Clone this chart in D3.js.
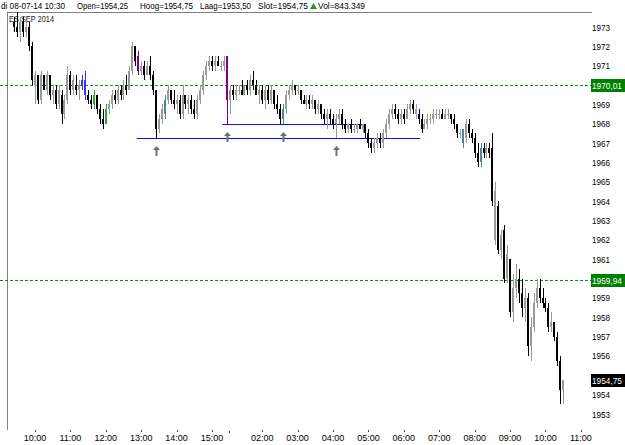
<!DOCTYPE html>
<html lang="en">
<head>
<meta charset="UTF-8">
<title>ES SEP 2014</title>
<script src="https://cdn.jsdelivr.net/npm/d3@7"></script>
<style>
    body { margin: 0; background: #fff; }
    svg { display: block; font-family: "Liberation Sans", Arial, sans-serif; }
</style>
</head>
<body>
<div class="chart"></div>
<script>
// 5 minute bars, day session then night session
const sessionStarts = ["09:25", "01:00"];
const sessionLengths = [72, 115];

const opens = [
    1973.25, 1973.0, 1972.75, 1973.25, 1972.75, 1973.0, 1972.0, 1970.0, 1970.5, 1969.25,
    1970.5, 1969.75, 1970.5, 1969.5, 1969.75, 1969.0, 1969.5, 1968.5, 1969.25, 1970.5,
    1969.75, 1970.0, 1969.75, 1970.0, 1970.25, 1969.5, 1969.25, 1969.0, 1969.5, 1968.75,
    1968.25, 1968.0, 1968.75, 1969.0, 1969.5, 1969.25, 1969.75, 1969.5, 1970.0, 1969.75,
    1970.75, 1972.0, 1971.5, 1970.75, 1971.0, 1970.5, 1971.0, 1970.5, 1969.75, 1967.75,
    1968.25, 1968.5, 1969.25, 1969.75, 1969.25, 1969.0, 1969.25, 1968.5, 1969.5, 1969.0,
    1969.25, 1968.75, 1968.5, 1969.25, 1969.75, 1970.5, 1971.0, 1971.25, 1971.0, 1971.25,
    1971.0, 1971.0, 1971.5, 1969.25, 1969.75, 1969.5, 1969.75, 1969.75, 1969.5, 1970.0,
    1969.75, 1970.25, 1970.0, 1969.5, 1969.75, 1969.25, 1969.75, 1969.25, 1969.75, 1969.0,
    1968.75, 1968.25, 1968.75, 1969.5, 1969.75, 1970.0, 1969.75, 1969.75, 1969.25, 1969.0,
    1969.25, 1969.0, 1969.25, 1968.75, 1969.0, 1968.5, 1968.25, 1968.5, 1968.25, 1968.0,
    1968.25, 1968.5, 1968.0, 1967.75, 1968.0, 1967.75, 1967.75, 1968.0, 1967.75, 1968.0,
    1967.5, 1967.0, 1966.75, 1967.0, 1967.25, 1967.0, 1967.5, 1968.0, 1968.5, 1968.75,
    1968.5, 1968.25, 1968.5, 1968.25, 1968.75, 1969.0, 1968.75, 1968.5, 1968.25, 1967.75,
    1968.0, 1968.25, 1968.25, 1968.5, 1968.5, 1968.5, 1968.25, 1968.5, 1968.5, 1968.25,
    1968.0, 1967.5, 1967.0, 1967.25, 1968.0, 1967.5, 1967.25, 1966.5, 1966.0, 1966.75,
    1966.5, 1966.75, 1966.75, 1962.0, 1963.75, 1961.5, 1962.5, 1960.0, 1961.0, 1958.25,
    1959.5, 1960.0, 1959.25, 1958.5, 1959.0, 1956.5, 1957.5, 1958.75, 1959.5, 1959.0,
    1958.75, 1958.5, 1957.5, 1957.75, 1957.0, 1955.75, 1954.25
];
const highs = [
    1973.5, 1973.75, 1973.5, 1973.5, 1973.25, 1973.25, 1972.25, 1970.75, 1970.5, 1970.75,
    1970.5, 1970.75, 1970.5, 1970.0, 1970.0, 1970.0, 1969.75, 1969.5, 1971.0, 1970.75,
    1970.5, 1970.5, 1970.25, 1970.5, 1970.75, 1969.75, 1969.5, 1969.75, 1969.5, 1969.0,
    1968.75, 1969.0, 1969.25, 1969.75, 1969.75, 1970.0, 1970.0, 1970.25, 1970.5, 1971.0,
    1972.25, 1972.0, 1971.75, 1971.25, 1971.25, 1971.25, 1971.5, 1970.75, 1969.75, 1968.5,
    1969.0, 1969.5, 1970.0, 1969.75, 1969.75, 1969.5, 1969.5, 1970.0, 1969.5, 1969.5,
    1969.5, 1969.25, 1969.5, 1970.0, 1970.75, 1971.25, 1971.5, 1971.5, 1971.5, 1971.5,
    1971.25, 1971.5, 1971.5, 1970.0, 1970.0, 1970.0, 1970.0, 1970.25, 1970.0, 1970.25,
    1970.5, 1970.75, 1970.25, 1970.0, 1970.0, 1970.0, 1970.0, 1970.0, 1969.75, 1969.5,
    1969.0, 1969.0, 1969.75, 1970.0, 1970.25, 1970.0, 1970.0, 1969.75, 1969.5, 1969.5,
    1969.5, 1969.5, 1969.25, 1969.25, 1969.0, 1968.75, 1968.75, 1968.75, 1968.5, 1968.5,
    1968.75, 1968.75, 1968.25, 1968.0, 1968.25, 1968.0, 1968.0, 1968.25, 1968.0, 1968.0,
    1967.75, 1967.25, 1967.25, 1967.5, 1967.5, 1967.75, 1968.25, 1968.75, 1969.0, 1969.0,
    1968.75, 1968.75, 1968.75, 1969.0, 1969.25, 1969.25, 1969.0, 1968.75, 1968.5, 1968.25,
    1968.5, 1968.5, 1968.75, 1968.75, 1968.75, 1968.75, 1968.75, 1968.75, 1968.5, 1968.5,
    1968.0, 1967.75, 1967.75, 1968.25, 1968.25, 1967.75, 1967.5, 1967.0, 1967.0, 1967.0,
    1967.0, 1967.0, 1967.5, 1965.0, 1964.0, 1962.5, 1962.75, 1961.75, 1961.0, 1960.25,
    1960.75, 1960.5, 1960.0, 1959.5, 1959.25, 1958.0, 1959.25, 1960.0, 1960.0, 1959.5,
    1959.0, 1958.75, 1958.25, 1957.75, 1957.25, 1956.0, 1954.75
];
const lows = [
    1972.75, 1972.5, 1972.25, 1972.5, 1972.5, 1971.75, 1970.0, 1969.0, 1969.0, 1969.0,
    1969.75, 1969.5, 1969.25, 1969.0, 1968.75, 1968.75, 1968.0, 1968.25, 1969.0, 1969.5,
    1969.5, 1969.5, 1969.25, 1969.75, 1969.25, 1969.0, 1968.75, 1968.75, 1968.5, 1968.0,
    1967.75, 1968.0, 1968.5, 1968.75, 1969.0, 1969.0, 1969.25, 1969.25, 1969.5, 1969.75,
    1970.5, 1971.0, 1970.5, 1970.5, 1970.25, 1970.5, 1970.25, 1969.5, 1967.25, 1967.5,
    1968.0, 1968.25, 1969.0, 1969.0, 1968.75, 1968.5, 1968.25, 1968.25, 1968.75, 1968.5,
    1968.5, 1968.25, 1968.25, 1969.0, 1969.5, 1970.25, 1970.75, 1970.75, 1970.75, 1971.0,
    1970.75, 1970.75, 1968.0, 1968.5, 1969.25, 1969.25, 1969.5, 1969.5, 1969.5, 1969.5,
    1969.5, 1969.75, 1969.5, 1969.0, 1969.0, 1968.75, 1969.0, 1969.0, 1968.75, 1968.5,
    1968.0, 1968.0, 1968.5, 1969.25, 1969.5, 1969.5, 1969.5, 1969.0, 1969.0, 1968.75,
    1968.75, 1968.75, 1968.5, 1968.5, 1968.25, 1968.0, 1967.75, 1968.0, 1967.75, 1967.25,
    1968.0, 1967.75, 1967.5, 1967.5, 1967.5, 1967.5, 1967.5, 1967.75, 1967.5, 1967.25,
    1966.75, 1966.5, 1966.5, 1966.75, 1966.75, 1966.75, 1967.25, 1967.75, 1968.25, 1968.25,
    1968.0, 1968.0, 1968.0, 1968.25, 1968.5, 1968.5, 1968.25, 1968.0, 1967.5, 1967.75,
    1967.75, 1968.0, 1968.0, 1968.25, 1968.25, 1968.25, 1968.25, 1968.25, 1968.0, 1967.75,
    1967.25, 1967.25, 1966.75, 1967.0, 1967.25, 1967.0, 1966.25, 1965.75, 1965.75, 1966.25,
    1966.25, 1966.25, 1963.75, 1961.75, 1961.25, 1961.0, 1959.75, 1959.75, 1958.0, 1957.75,
    1959.0, 1958.75, 1958.0, 1957.75, 1956.0, 1955.75, 1957.25, 1958.5, 1958.75, 1958.5,
    1958.25, 1957.25, 1957.25, 1956.75, 1955.5, 1953.5, 1953.5
];
const closes = [
    1973.0, 1972.75, 1973.25, 1972.75, 1973.0, 1972.0, 1970.25, 1970.5, 1969.25, 1970.5,
    1969.75, 1970.5, 1969.5, 1969.75, 1969.0, 1969.75, 1968.5, 1969.25, 1970.5, 1969.75,
    1970.25, 1969.75, 1970.0, 1970.25, 1969.5, 1969.25, 1969.0, 1969.5, 1968.75, 1968.25,
    1968.0, 1968.75, 1969.0, 1969.5, 1969.25, 1969.75, 1969.5, 1970.0, 1969.75, 1970.75,
    1972.0, 1971.25, 1970.75, 1971.0, 1970.5, 1971.0, 1970.5, 1969.75, 1967.75, 1968.25,
    1968.75, 1969.25, 1969.75, 1969.25, 1969.0, 1969.25, 1968.5, 1969.5, 1969.0, 1969.25,
    1968.75, 1968.5, 1969.25, 1969.75, 1970.5, 1971.0, 1971.25, 1971.0, 1971.25, 1971.0,
    1971.0, 1971.25, 1969.25, 1969.75, 1969.5, 1969.75, 1969.75, 1969.5, 1970.0, 1969.75,
    1970.25, 1970.0, 1969.5, 1969.75, 1969.25, 1969.75, 1969.25, 1969.75, 1969.0, 1968.75,
    1968.25, 1968.75, 1969.5, 1969.75, 1970.0, 1969.75, 1969.75, 1969.25, 1969.0, 1969.25,
    1969.0, 1969.25, 1968.75, 1969.0, 1968.5, 1968.25, 1968.5, 1968.25, 1968.0, 1968.25,
    1968.5, 1968.0, 1967.75, 1968.0, 1967.75, 1967.75, 1968.0, 1967.75, 1968.0, 1967.5,
    1967.0, 1966.75, 1967.0, 1967.25, 1967.0, 1967.5, 1968.0, 1968.5, 1968.75, 1968.5,
    1968.25, 1968.5, 1968.25, 1968.75, 1969.0, 1968.75, 1968.5, 1968.25, 1967.75, 1968.0,
    1968.25, 1968.25, 1968.5, 1968.5, 1968.5, 1968.25, 1968.5, 1968.5, 1968.25, 1968.0,
    1967.5, 1967.5, 1967.75, 1968.0, 1967.5, 1967.25, 1966.5, 1966.0, 1966.75, 1966.5,
    1966.75, 1966.5, 1964.0, 1964.5, 1961.5, 1962.25, 1960.0, 1961.25, 1958.25, 1959.5,
    1960.0, 1959.25, 1958.5, 1959.0, 1956.5, 1957.5, 1958.75, 1959.5, 1959.0, 1958.75,
    1958.5, 1957.5, 1957.75, 1957.0, 1955.75, 1954.25, 1954.75
];

// bars painted in a signal colour
const markedBars = [23, 24, 27, 31, 42, 51, 72, 91, 136, 152, 158];
const markedColors = ["#3333ff", "#3333ff", "#33a033", "#33a033", "#800080", "#4a8a8a",
    "#800080", "#4a8a8a", "#d47fd4", "#4a8a8a", "#4a8a8a"];

// support lines drawn on the chart (price, first bar, last bar)
const supportPrices = [1967.25, 1968.0];
const supportFrom = [41.5, 70.5];
const supportTo = [137.5, 118];
const arrowBars = [48, 72, 91, 109];

const levelPrices = [1970.01, 1959.94];
const timeLabels = ["10:00", "11:00", "12:00", "13:00", "14:00", "15:00",
    "02:00", "03:00", "04:00", "05:00", "06:00", "07:00", "08:00", "09:00", "10:00", "11:00"];
const timeLabelSession = [0, 0, 0, 0, 0, 0, 1, 1, 1, 1, 1, 1, 1, 1, 1, 1];
const priceTicks = d3.range(1953, 1974);

const headerDate = "di 08-07-14 10:30";
const headerVol = "843.349";

const width = 625, height = 445;
const plotLeft = 7, plotTop = 12, plotRight = 591, plotBottom = 430;

const svg = d3.select(".chart").append("svg")
    .attr("width", width)
    .attr("height", height);

const n = opens.length;
const x = d3.scaleLinear().domain([0, n - 1]).range([14.3, 563.2]);
const y = d3.scaleLinear().domain([1953, 1973]).range([414, 27]);

const toMin = s => +s.slice(0, 2) * 60 + +s.slice(3, 5);
const barIndexOf = (label, session) => {
    const offset = session === 0 ? 0 : sessionLengths[0];
    return offset + (toMin(label) - toMin(sessionStarts[session])) / 5;
};
const fmt = v => d3.format(".2f")(v).replace(".", ",");

// frame
svg.append("line")
    .attr("x1", plotLeft).attr("x2", plotRight + 1)
    .attr("y1", plotTop + 0.5).attr("y2", plotTop + 0.5)
    .attr("stroke", "#808080");
svg.append("line")
    .attr("x1", plotLeft + 0.5).attr("x2", plotLeft + 0.5)
    .attr("y1", plotTop).attr("y2", plotBottom)
    .attr("stroke", "#808080");

// header, squeezed to the widths of the original
const header = svg.append("g").attr("font-size", "9.5px").attr("fill", "#000");
const last = n - 1;
const headerParts = [
    [1, 64, headerDate],
    [77, 51, "Open=" + fmt(opens[last])],
    [140, 53, "Hoog=" + fmt(highs[last])],
    [200, 51, "Laag=" + fmt(lows[last])],
    [258, 50, "Slot=" + fmt(closes[last])],
    [318, 47, "Vol=" + headerVol]
];
header.selectAll("text")
    .data(headerParts)
    .enter()
    .append("text")
    .attr("x", d => d[0])
    .attr("y", 8.5)
    .attr("textLength", d => d[1])
    .attr("lengthAdjust", "spacingAndGlyphs")
    .text(d => d[2]);
svg.append("path")
    .attr("d", "M310,9 L313.5,3 L317,9 Z")
    .attr("fill", "#1aa01a");

svg.append("text")
    .attr("x", 9).attr("y", 22)
    .attr("font-size", "9px")
    .attr("fill", "#222")
    .attr("textLength", 45)
    .attr("lengthAdjust", "spacingAndGlyphs")
    .text("ES SEP 2014");

// level lines
svg.selectAll(".level")
    .data(levelPrices)
    .enter()
    .append("line")
    .attr("class", "level")
    .attr("x1", 0).attr("x2", plotRight)
    .attr("y1", d => Math.round(y(d)) + 0.5)
    .attr("y2", d => Math.round(y(d)) + 0.5)
    .attr("stroke", "#109010")
    .attr("stroke-dasharray", "3,2");

// support lines
svg.selectAll(".support")
    .data(supportPrices)
    .enter()
    .append("line")
    .attr("class", "support")
    .attr("x1", (d, i) => x(supportFrom[i]))
    .attr("x2", (d, i) => x(supportTo[i]))
    .attr("y1", d => Math.round(y(d)) + 0.5)
    .attr("y2", d => Math.round(y(d)) + 0.5)
    .attr("stroke", "#1010ee")
    .attr("stroke-width", 1.2);

// candles
const bars = d3.range(n).map(i => ({
    i: i, o: opens[i], h: highs[i], l: lows[i], c: closes[i],
    color: markedBars.includes(i) ? markedColors[markedBars.indexOf(i)]
        : (closes[i] >= opens[i] ? "#999999" : "#000")
}));

const candles = svg.append("g").attr("shape-rendering", "crispEdges");
candles.selectAll(".wick")
    .data(bars)
    .enter()
    .append("rect")
    .attr("class", "wick")
    .attr("x", d => Math.round(x(d.i)))
    .attr("width", 1)
    .attr("y", d => Math.round(y(d.h)))
    .attr("height", d => Math.max(1, Math.round(y(d.l)) - Math.round(y(d.h))))
    .attr("fill", d => d.color);
candles.selectAll(".body")
    .data(bars)
    .enter()
    .append("rect")
    .attr("class", "body")
    .attr("x", d => Math.round(x(d.i)) - 1)
    .attr("width", 2)
    .attr("y", d => Math.round(y(Math.max(d.o, d.c))))
    .attr("height", d => Math.max(1, Math.round(y(Math.min(d.o, d.c))) - Math.round(y(Math.max(d.o, d.c)))))
    .attr("fill", d => d.color);

// arrows under the tested lows
svg.selectAll(".arrow")
    .data(arrowBars)
    .enter()
    .append("path")
    .attr("class", "arrow")
    .attr("transform", d => `translate(${Math.round(x(d)) + 0.5},${Math.round(y(lows[d])) + 8})`)
    .attr("d", "M0,0 L3.5,4 L1,4 L1,10 L-1,10 L-1,4 L-3.5,4 Z")
    .attr("fill", "#707070");

// price axis, value boxes sit on top of the ticks they cover
const boxes = levelPrices.map(p => ({ v: p, bg: "#008000" }))
    .concat([{ v: closes[last], bg: "#000" }]);
const freeTicks = priceTicks.filter(t => boxes.every(b => Math.abs(y(t) - y(b.v)) > 8));

const axisY = svg.append("g").attr("font-size", "9px").attr("fill", "#000");
axisY.selectAll("text")
    .data(freeTicks)
    .enter()
    .append("text")
    .attr("x", 592)
    .attr("y", d => y(d) + 3.5)
    .attr("textLength", 18)
    .attr("lengthAdjust", "spacingAndGlyphs")
    .text(d => d);

const box = svg.selectAll(".box")
    .data(boxes)
    .enter()
    .append("g")
    .attr("class", "box");
box.append("rect")
    .attr("x", 591)
    .attr("y", d => Math.round(y(d.v)) - 6)
    .attr("width", 34)
    .attr("height", 13)
    .attr("fill", d => d.bg);
box.append("text")
    .attr("x", 592)
    .attr("y", d => Math.round(y(d.v)) + 4)
    .attr("font-size", "9px")
    .attr("fill", "#fff")
    .attr("textLength", 30)
    .attr("lengthAdjust", "spacingAndGlyphs")
    .text(d => fmt(d.v));

// time axis
const axisX = svg.append("g");
const ticks = timeLabels.map((t, k) => ({ t: t, pos: x(barIndexOf(t, timeLabelSession[k])) }));
axisX.selectAll("rect")
    .data(ticks)
    .enter()
    .append("rect")
    .attr("x", d => Math.round(d.pos))
    .attr("y", plotBottom)
    .attr("width", 1)
    .attr("height", 2)
    .attr("fill", "#404040");
axisX.selectAll("text")
    .data(ticks)
    .enter()
    .append("text")
    .attr("x", d => d.pos)
    .attr("y", 441)
    .attr("text-anchor", "middle")
    .attr("font-size", "9px")
    .text(d => d.t);
// session break mark
axisX.append("rect")
    .attr("x", Math.round(x(sessionLengths[0])) + 2)
    .attr("y", plotBottom + 1)
    .attr("width", 1)
    .attr("height", 2)
    .attr("fill", "#404040");
</script>
</body>
</html>
